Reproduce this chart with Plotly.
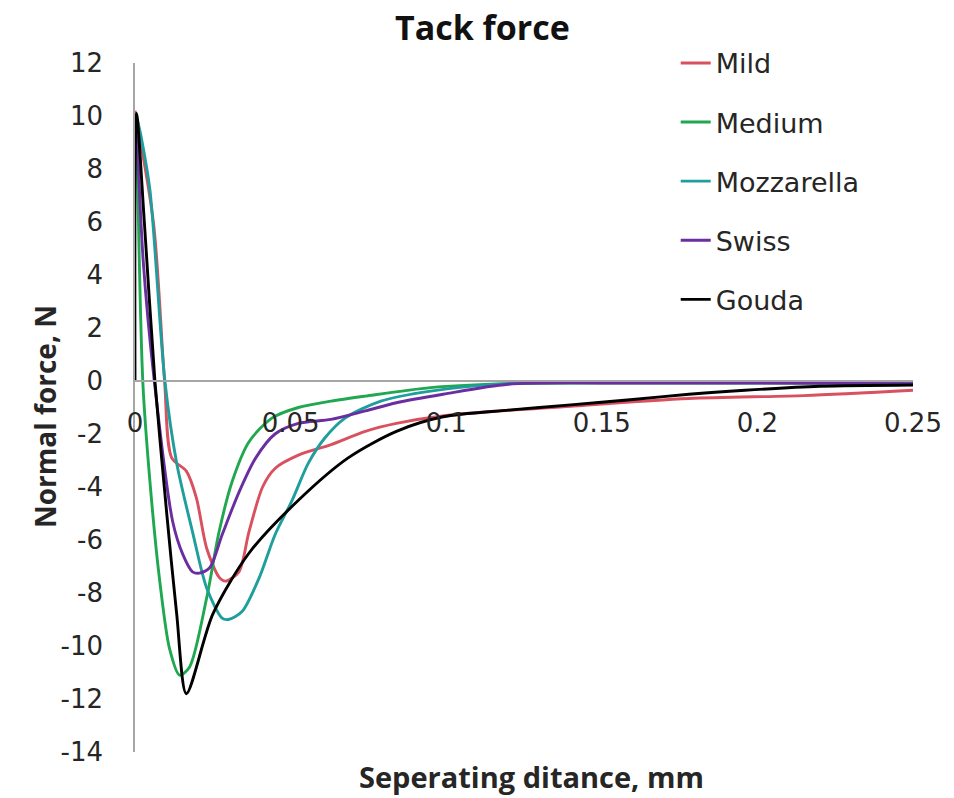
import plotly.graph_objects as go

# Tack test: normal force vs separating distance for five cheeses
mild_x = [0, 0.006, 0.0095, 0.0118, 0.0165, 0.0197, 0.023, 0.027, 0.029, 0.0334, 0.0366, 0.041,
          0.045, 0.0525, 0.063, 0.074, 0.084, 0.1, 0.14, 0.178, 0.215, 0.25]
mild_y = [10.2, 5.9, 0, -2.9, -3.4, -4.4, -6.3, -7.4, -7.55, -7.2, -5.7, -4.0,
          -3.3, -2.8, -2.4, -1.9, -1.6, -1.3, -0.95, -0.66, -0.55, -0.35]

medium_x = [0.0005, 0.0025, 0.0048, 0.008, 0.0111, 0.0143, 0.0175, 0.023, 0.027, 0.0312, 0.0366,
            0.044, 0.0525, 0.063, 0.074, 0.095, 0.12, 0.16, 0.2, 0.25]
medium_y = [9.9, 0, -3.8, -7.6, -10.1, -11.1, -10.8, -8.2, -5.7, -3.8, -2.3,
            -1.4, -1.0, -0.76, -0.57, -0.25, -0.1, -0.08, -0.08, -0.1]

mozzarella_x = [0.0005, 0.002, 0.0048, 0.0096, 0.0134, 0.0185, 0.023, 0.028, 0.030, 0.0344, 0.04,
                0.045, 0.0505, 0.0557, 0.061, 0.0675, 0.079, 0.095, 0.12, 0.16, 0.2, 0.25]
mozzarella_y = [10.0, 9.2, 7.2, 0, -3.1, -5.7, -7.8, -8.95, -9.0, -8.7, -7.4,
                -5.8, -4.5, -3.1, -2.15, -1.4, -0.76, -0.38, -0.1, -0.05, -0.05, -0.08]

swiss_x = [0.0005, 0.0026, 0.0062, 0.0121, 0.0154, 0.0185, 0.0207, 0.024, 0.028, 0.0334, 0.0388,
           0.045, 0.0525, 0.063, 0.074, 0.084, 0.099, 0.12, 0.16, 0.2, 0.25]
swiss_y = [9.8, 4.6, 0, -5.3, -6.55, -7.2, -7.25, -7.05, -5.8, -4.2, -2.9,
           -2.0, -1.6, -1.45, -1.13, -0.82, -0.5, -0.12, -0.08, -0.08, -0.1]

gouda_x = [0, 0.0005, 0.003, 0.0064, 0.0102, 0.0134, 0.0165, 0.025, 0.0366, 0.0525, 0.0685,
           0.084, 0.099, 0.12, 0.14, 0.16, 0.178, 0.196, 0.22, 0.25]
gouda_y = [0, 10.1, 6.0, 0, -5.0, -8.8, -11.8, -8.8, -6.5, -4.5, -2.9,
           -1.9, -1.35, -1.1, -0.9, -0.7, -0.5, -0.35, -0.2, -0.15]

series = [
    ("Mild", mild_x, mild_y, "#D9505E"),
    ("Medium", medium_x, medium_y, "#1FA850"),
    ("Mozzarella", mozzarella_x, mozzarella_y, "#1E9E9C"),
    ("Swiss", swiss_x, swiss_y, "#6A2EA0"),
    ("Gouda", gouda_x, gouda_y, "#000000"),
]

x_ticks = [0, 0.05, 0.1, 0.15, 0.2, 0.25]
x_tick_text = ["0", "0.05", "0.1", "0.15", "0.2", "0.25"]
y_ticks = list(range(-14, 13, 2))
y_tick_text = [str(v) for v in y_ticks]  # plain hyphen for negatives

TICK_FONT = "'DejaVu Sans', sans-serif"
TITLE_FONT = "'Open Sans', sans-serif"
TXT = "#262626"

fig = go.Figure()
for name, xs, ys, color in series:
    fig.add_trace(go.Scatter(
        x=xs, y=ys, name=name, mode="lines", legendgroup=name,
        line=dict(color=color, width=2.9, shape="spline", smoothing=0.8),
    ))

y_min, y_max = -14, 12
zero_frac = (0 - y_min) / (y_max - y_min)

fig.update_layout(
    width=954, height=798,
    margin=dict(l=135, r=29, t=63, b=46),
    paper_bgcolor="white", plot_bgcolor="white",
    font=dict(family=TICK_FONT, size=20, color=TXT),
    showlegend=True,
    legend=dict(
        x=0.695, y=1.035, xanchor="left", yanchor="top",
        font=dict(family=TICK_FONT, size=27, color=TXT),
        tracegroupgap=21, itemwidth=30, bgcolor="rgba(0,0,0,0)",
    ),
    xaxis=dict(
        range=[0, 0.25], tickvals=x_ticks, ticktext=x_tick_text,
        anchor="free", position=zero_frac,
        showline=True, linecolor="#A6A6A6", linewidth=1.5,
        showgrid=False, zeroline=False, ticks="",
        ticklabelstandoff=19,
        tickfont=dict(family=TICK_FONT, size=26, color=TXT),
    ),
    yaxis=dict(
        range=[y_min, y_max], tickvals=y_ticks, ticktext=y_tick_text,
        showline=True, linecolor="#A6A6A6", linewidth=1.5,
        showgrid=False, zeroline=False, ticks="",
        ticklabelstandoff=25,
        tickfont=dict(family=TICK_FONT, size=26, color=TXT),
    ),
    annotations=[
        dict(text="<b>Tack force</b>", x=0.447, y=1.052, xref="paper", yref="paper",
             yanchor="middle", showarrow=False,
             font=dict(family=TITLE_FONT, size=34, color="#111111")),
        dict(text="<b>Seperating ditance, mm</b>", x=0.509, y=-0.035, xref="paper", yref="paper",
             yanchor="middle", showarrow=False,
             font=dict(family=TITLE_FONT, size=29, color=TXT)),
        dict(text="<b>Normal force, N</b>", x=-0.115, y=0.487, xref="paper", yref="paper",
             xanchor="center", yanchor="middle", showarrow=False, textangle=-90,
             font=dict(family=TITLE_FONT, size=28, color=TXT)),
    ],
)

fig.write_html("out.html")
